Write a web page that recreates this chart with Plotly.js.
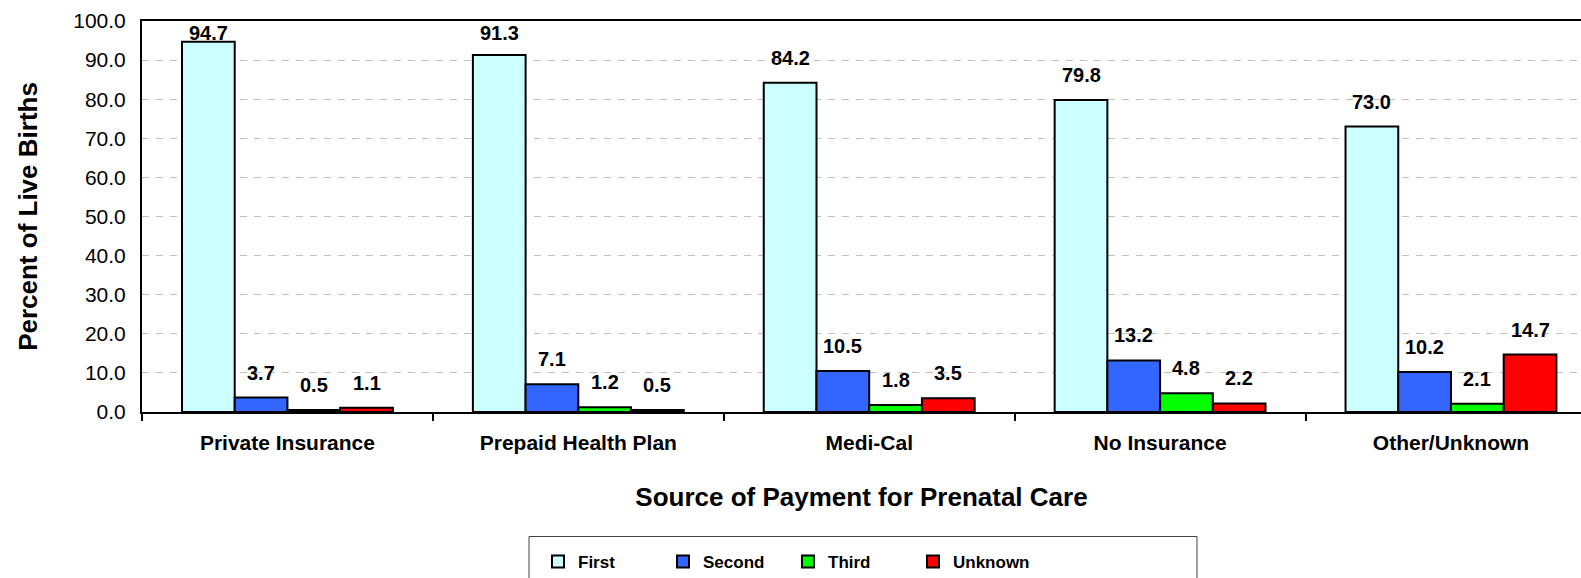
<!DOCTYPE html>
<html>
<head>
<meta charset="utf-8">
<script src="https://cdn.plot.ly/plotly-3.0.1.min.js"></script>
<style>html,body{margin:0;padding:0;background:#fff;}#chart{width:1581px;height:578px;}</style>
</head>
<body>
<div id="chart"></div>
<script>
const categories = ["Private Insurance", "Prepaid Health Plan", "Medi-Cal", "No Insurance", "Other/Unknown"];
const seriesNames = ["First", "Second", "Third", "Unknown"];
const first   = [94.7, 91.3, 84.2, 79.8, 73.0];
const second  = [3.7, 7.1, 10.5, 13.2, 10.2];
const third   = [0.5, 1.2, 1.8, 4.8, 2.1];
const unknown = [1.1, 0.5, 3.5, 2.2, 14.7];
const yTicks  = [0, 10, 20, 30, 40, 50, 60, 70, 80, 90, 100];

const seriesValues = [first, second, third, unknown];
const colors = ["#CCFFFF", "#3366FF", "#00FF00", "#FF0000"];

const W = 1581, H = 578;
const margin = {l: 142, r: 0, t: 21, b: 166};
const bargap = 0.275;
const xRange = [-0.5, 4.447];
const yRange = [0, 100];
const plotH = H - margin.t - margin.b;
const pxPerY = plotH / (yRange[1] - yRange[0]);

const font = "Liberation Sans, Arial, sans-serif";

const traces = seriesValues.map((vals, i) => ({
  type: "bar",
  name: seriesNames[i],
  x: categories,
  y: vals,
  marker: {color: colors[i], line: {color: "#000", width: 2}},
  hoverinfo: "skip"
}));

// data labels above bars
const annotations = [];
const slot = (1 - bargap) / seriesValues.length;
seriesValues.forEach((vals, i) => {
  vals.forEach((v, j) => {
    const yLab = Math.min(v + 25 / pxPerY, yRange[1] - 12 / pxPerY);
    annotations.push({
      x: j + (i - (seriesValues.length - 1) / 2) * slot,
      y: yLab,
      xref: "x", yref: "y",
      text: v.toFixed(1),
      showarrow: false,
      yanchor: "middle",
      xanchor: "center",
      font: {family: font, size: 20, color: "#000", weight: "bold"}
    });
  });
});

const layout = {
  width: W, height: H,
  margin: margin,
  paper_bgcolor: "#fff",
  plot_bgcolor: "#fff",
  barmode: "group",
  bargap: bargap,
  bargroupgap: 0,
  showlegend: true,
  legend: {
    orientation: "h",
    xref: "container", yref: "container",
    x: 538 / W, xanchor: "left",
    y: 1 - 544 / H, yanchor: "top",
    font: {family: font, size: 17, color: "#000", weight: "bold"},
    borderwidth: 0,
    entrywidth: 80,
    traceorder: "normal"
  },
  shapes: [{
    type: "rect", xref: "paper", yref: "paper",
    x0: (529 - margin.l) / (W - margin.l - margin.r),
    x1: (1197 - margin.l) / (W - margin.l - margin.r),
    y0: -(578 + 5 - (H - margin.b)) / plotH,
    y1: -(536.5 - (H - margin.b)) / plotH,
    line: {color: "#444", width: 1},
    fillcolor: "rgba(0,0,0,0)",
    layer: "below"
  }],
  xaxis: {
    type: "category",
    range: xRange,
    showline: true, linecolor: "#000", linewidth: 2, mirror: true,
    ticks: "outside", tickson: "boundaries", ticklen: 7, tickwidth: 2, tickcolor: "#000",
    ticklabelstandoff: 11,
    tickfont: {family: font, size: 21, color: "#000", weight: "bold"},
    showgrid: false,
    zeroline: false,
    fixedrange: true,
    title: {text: "Source of Payment for Prenatal Care", font: {family: font, size: 26, color: "#000", weight: "bold"}, standoff: 35}
  },
  yaxis: {
    range: yRange,
    tickvals: yTicks,
    ticktext: yTicks.map(v => v.toFixed(1)),
    showline: true, linecolor: "#000", linewidth: 2,
    ticks: "", ticklabelstandoff: 10,
    tickfont: {family: font, size: 21, color: "#000"},
    showgrid: true, gridcolor: "#C0C0C0", gridwidth: 1, griddash: "7px,7px",
    zeroline: false,
    fixedrange: true,
    title: {text: "Percent of Live Births", font: {family: font, size: 26, color: "#000", weight: "bold"}, standoff: 28}
  },
  annotations: annotations
};

Plotly.newPlot("chart", traces, layout, {displayModeBar: false, staticPlot: true});
</script>
</body>
</html>
